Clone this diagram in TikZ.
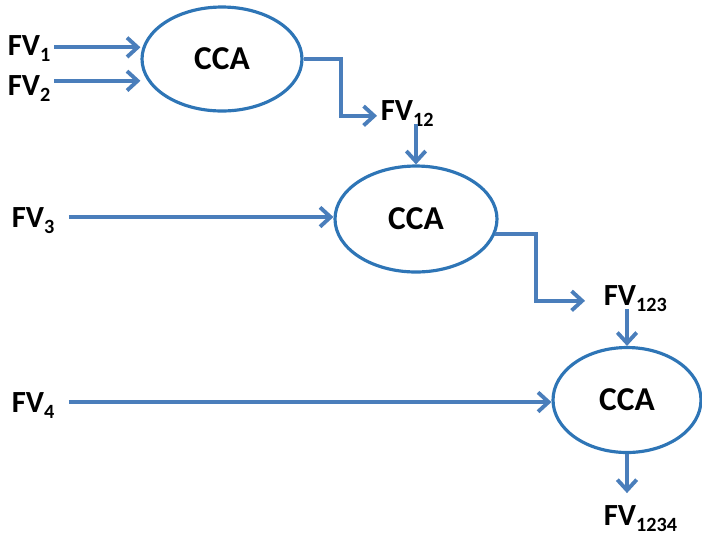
\documentclass[tikz,border=0pt]{standalone}
\usepackage{fontspec}
\setmainfont{Carlito}
\usetikzlibrary{arrows.meta, shapes.geometric}

\definecolor{flowblue}{HTML}{4A7EBB}
\definecolor{ringblue}{HTML}{2E75B6}
\newcommand{\fvsub}[1]{\raisebox{-0.45ex}{\fontsize{11.5}{12}\selectfont #1}}

\begin{document}
\begin{tikzpicture}[x=0.02cm, y=-0.02cm, >={Straight Barb[length=6pt, width=11pt]},
        fv/.style={font=\fontsize{17.5}{19}\selectfont\bfseries, text depth=0pt, inner sep=2pt, anchor=base west},
        cca/.style={draw=ringblue, ellipse, line width=1.8pt, minimum width=3.2cm, minimum height=2.08cm, font=\fontsize{19}{21}\selectfont\bfseries},
        flow/.style={->, draw=flowblue, line width=2.2pt}]
        \useasboundingbox (0,0) rectangle (702,539);

        % Nodes
        \node[cca] (cca1) at (222,59) {CCA};
        \node[cca, minimum width=3.24cm, minimum height=2.12cm] (cca2) at (416,219) {CCA};
        \node[cca, minimum width=2.96cm, minimum height=2.1cm] (cca3) at (627,400) {CCA};

        \node[fv] (fv1) at (4,55) {FV\fvsub{1}};
        \node[fv] (fv2) at (4,95) {FV\fvsub{2}};
        \node[fv] (fv3) at (8,227) {FV\fvsub{3}};
        \node[fv] (fv4) at (8,412) {FV\fvsub{4}};
        \node[fv] (fv12) at (377,120) {FV\fvsub{12}};
        \node[fv] (fv123) at (600,305) {FV\fvsub{123}};
        \node[fv] (fv1234) at (600,525) {FV\fvsub{1234}};

        % Edges
        \draw[flow] ([yshift=-1.3pt]fv1.east) -- ([yshift=-1.3pt]fv1.east -| cca1.west);
        \draw[flow] ([yshift=2.4pt]fv2.east) -- ([yshift=2.4pt]fv2.east -| cca1.west);
        \draw[flow, shorten <=6pt] (fv3.east) -- (fv3.east -| cca2.west);
        \draw[flow, shorten <=6pt] (fv4.east) -- (fv4.east -| cca3.west);
        \draw[flow] (cca1.east) -- ++(37,0) |- (fv12.mid west);
        \draw[flow] (cca2.north |- fv12.south) -- (cca2.north);
        \draw[flow, shorten >=3mm] (cca2.-11) -- ++(41,0) |- (fv123.mid west);
        \draw[flow] (cca3.north |- fv123.south) -- (cca3.north);
        \draw[flow] (cca3.south) -- ++(0,39);
    \end{tikzpicture}
\end{document}
